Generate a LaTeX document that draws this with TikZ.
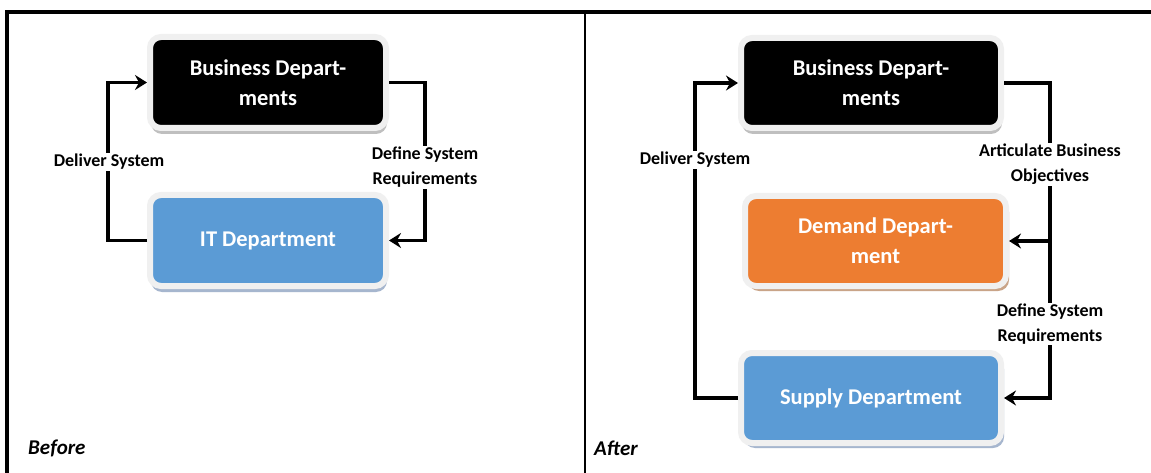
\documentclass[tikz,border=0pt]{standalone}
\usepackage{fontspec}
\setmainfont{Carlito}
\usetikzlibrary{arrows.meta,shadows}
\definecolor{bluebox}{HTML}{5B9BD5}
\definecolor{orangebox}{HTML}{ED7D31}
\definecolor{rimgray}{HTML}{F0F0F0}
\definecolor{shgray}{HTML}{BFBFBF}
\definecolor{shorange}{HTML}{C9A488}
\definecolor{shblue}{HTML}{A6B6CE}
\tikzset{
  dept/.style={rectangle, rounded corners=11pt, draw=rimgray, line width=6pt,
    text=white, font=\fontsize{22.5}{30}\selectfont\bfseries, align=center, inner sep=0pt},
  conn/.style={line width=3.4pt, draw=black},
  arr/.style={conn, -{Stealth[length=12pt,width=15pt,inset=4pt]}},
  lbl/.style={fill=white, inner sep=1pt, align=center, font=\fontsize{18}{25}\selectfont\bfseries},
  tag/.style={anchor=west, inner sep=0pt, font=\fontsize{21}{25}\selectfont\bfseries\itshape},
  frame/.style={line width=4pt, draw=black}
}
\begin{document}
\begin{tikzpicture}[x=1pt,y=-1pt]
\useasboundingbox (0,0) rectangle (1151,473);
\fill[white] (0,0) rectangle (1151,473);
% frame
\draw[frame] (7,473) -- (7,12) -- (1160,12);
\draw[line width=2.5pt] (585,13) -- (585,473);
% left panel
\node[dept, fill=black, minimum width=236pt, minimum height=91pt,
  drop shadow={shadow xshift=1pt, shadow yshift=-6pt, fill=shgray, opacity=1}] (bus1) at (268,82.5) {Business Depart-\\ments};
\node[dept, fill=bluebox, minimum width=236pt, minimum height=91pt,
  drop shadow={shadow xshift=1pt, shadow yshift=-6pt, fill=shblue, opacity=1}] (it) at (268,240.5) {IT Department};
\coordinate (l1) at (108,240.5);
\coordinate (r1) at (425,82.5);
\draw[arr] (it.west) -- (l1) |- (bus1.west);
\draw[arr] (bus1.east) -- (r1) |- (it.east);
\node[lbl] (d1) at (109,162) {Deliver System};
\node[lbl] (q1) at (425,167.5) {Define System\\Requirements};
\node[tag] (before) at (28,448) {Before};
% right panel
\node[dept, fill=black, minimum width=260pt, minimum height=90pt,
  drop shadow={shadow xshift=1pt, shadow yshift=-6pt, fill=shgray, opacity=1}] (bus2) at (871,83) {Business Depart-\\ments};
\node[dept, fill=orangebox, minimum width=261pt, minimum height=90pt,
  drop shadow={shadow xshift=3pt, shadow yshift=-5pt, fill=shorange, opacity=1}] (dem) at (875.5,241) {Demand Depart-\\ment};
\node[dept, fill=bluebox, minimum width=260pt, minimum height=90pt,
  drop shadow={shadow xshift=3pt, shadow yshift=-5pt, fill=shblue, opacity=1}] (sup) at (871,398) {Supply Department};
\coordinate (l2) at (695,398);
\coordinate (r2) at (1050,83);
\coordinate (ra) at (1050,241);
\draw[arr] (sup.west) -- (l2) |- (bus2.west);
\draw[arr] (bus2.east) -- (r2) |- (sup.east);
\draw[arr] (ra) -- (dem.east);
\node[lbl] (d2) at (695,160) {Deliver System};
\node[lbl] (a2) at (1050,164.5) {Articulate Business\\Objectives};
\node[lbl] (q2) at (1050,324) {Define System\\Requirements};
\node[tag] (after) at (594,448) {After};
\end{tikzpicture}
\end{document}
